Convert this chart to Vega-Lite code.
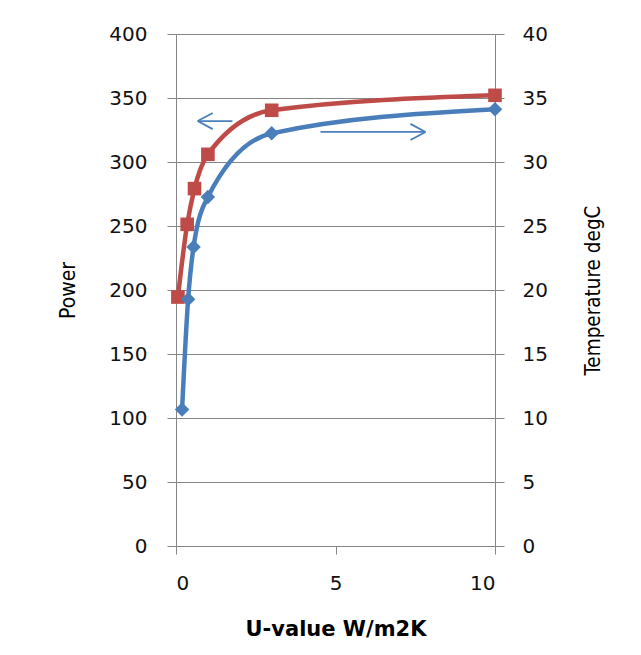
{
  "$schema": "https://vega.github.io/schema/vega-lite/v6.json",
  "width": 319,
  "height": 512,
  "autosize": {"type": "none"},
  "padding": {"left": 176, "top": 34, "right": 146, "bottom": 109},
  "background": "white",
  "config": {
    "view": {"stroke": null},
    "axis": {
      "domainColor": "#868686",
      "tickColor": "#868686",
      "gridColor": "#868686",
      "labelFont": "DejaVu Sans",
      "labelFontSize": 20,
      "labelColor": "#111111",
      "titleColor": "#000000",
      "tickSize": 9
    }
  },
  "datasets": {
    "power": [
      {"u": 0.06, "power": 194.5},
      {"u": 0.35, "power": 251.3},
      {"u": 0.58, "power": 279.2},
      {"u": 1.0, "power": 306.0},
      {"u": 3.0, "power": 340.4},
      {"u": 10.0, "power": 352.1}
    ],
    "temperature": [
      {"u": 0.19, "temp": 10.66},
      {"u": 0.38, "temp": 19.27},
      {"u": 0.55, "temp": 23.36},
      {"u": 1.0, "temp": 27.27},
      {"u": 3.0, "temp": 32.24},
      {"u": 10.0, "temp": 34.12}
    ],
    "arrows": [
      {"u": 1.77, "p": 332, "u2": 0.68, "p2": 332},
      {"u": 0.68, "p": 332, "u2": 1.15, "p2": 338.3},
      {"u": 0.68, "p": 332, "u2": 1.15, "p2": 325.7},
      {"u": 4.53, "p": 323.5, "u2": 7.82, "p2": 323.5},
      {"u": 7.82, "p": 323.5, "u2": 7.35, "p2": 329.8},
      {"u": 7.82, "p": 323.5, "u2": 7.35, "p2": 317.2}
    ]
  },
  "layer": [
    {
      "data": {"name": "power"},
      "mark": {"type": "line", "interpolate": "monotone", "color": "#BE4B48", "strokeWidth": 4.5},
      "encoding": {
        "x": {
          "field": "u", "type": "quantitative",
          "scale": {"domain": [0, 10], "nice": false},
          "axis": {
            "values": [0, 5, 10], "grid": false, "tickSize": 8,
            "labelPadding": 19,
            "title": "U-value W/m2K", "titleFont": "DejaVu Sans", "titleFontSize": 21,
            "titleFontWeight": "bold", "titlePadding": 25
          }
        },
        "y": {
          "field": "power", "type": "quantitative",
          "scale": {"domain": [0, 400], "nice": false},
          "axis": {
            "orient": "left", "values": [0, 50, 100, 150, 200, 250, 300, 350, 400],
            "grid": true, "labelPadding": 20,
            "title": "Power", "titleFont": "DejaVu Sans Condensed, Liberation Sans Narrow, sans-serif",
            "titleFontSize": 21, "titleFontWeight": "normal", "titlePadding": 30
          }
        }
      }
    },
    {
      "data": {"name": "power"},
      "mark": {"type": "point", "shape": "square", "filled": true, "opacity": 1, "size": 185, "color": "#BE4B48"},
      "encoding": {
        "x": {"field": "u", "type": "quantitative"},
        "y": {"field": "power", "type": "quantitative", "scale": {"domain": [0, 400], "nice": false}, "axis": null}
      }
    },
    {
      "data": {"name": "arrows"},
      "mark": {"type": "rule", "color": "#4A7EBB", "strokeWidth": 1.8},
      "encoding": {
        "x": {"field": "u", "type": "quantitative"},
        "x2": {"field": "u2"},
        "y": {"field": "p", "type": "quantitative", "scale": {"domain": [0, 400], "nice": false}, "axis": null},
        "y2": {"field": "p2"}
      }
    },
    {
      "data": {"name": "temperature"},
      "mark": {"type": "line", "interpolate": "monotone", "color": "#4A7EBB", "strokeWidth": 4.5},
      "encoding": {
        "x": {"field": "u", "type": "quantitative"},
        "y": {
          "field": "temp", "type": "quantitative",
          "scale": {"domain": [0, 40], "nice": false},
          "axis": {
            "orient": "right", "values": [0, 5, 10, 15, 20, 25, 30, 35, 40],
            "grid": false, "labelPadding": 18,
            "title": "Temperature degC", "titleFont": "DejaVu Sans Condensed, Liberation Sans Narrow, sans-serif",
            "titleFontSize": 20.5, "titleFontWeight": "normal", "titleAngle": -90, "titlePadding": 56
          }
        }
      }
    },
    {
      "data": {"name": "temperature"},
      "mark": {"type": "point", "shape": "diamond", "filled": true, "opacity": 1, "size": 210, "color": "#4A7EBB"},
      "encoding": {
        "x": {"field": "u", "type": "quantitative"},
        "y": {"field": "temp", "type": "quantitative", "scale": {"domain": [0, 40], "nice": false}, "axis": null}
      }
    }
  ],
  "resolve": {"scale": {"y": "independent"}}
}
